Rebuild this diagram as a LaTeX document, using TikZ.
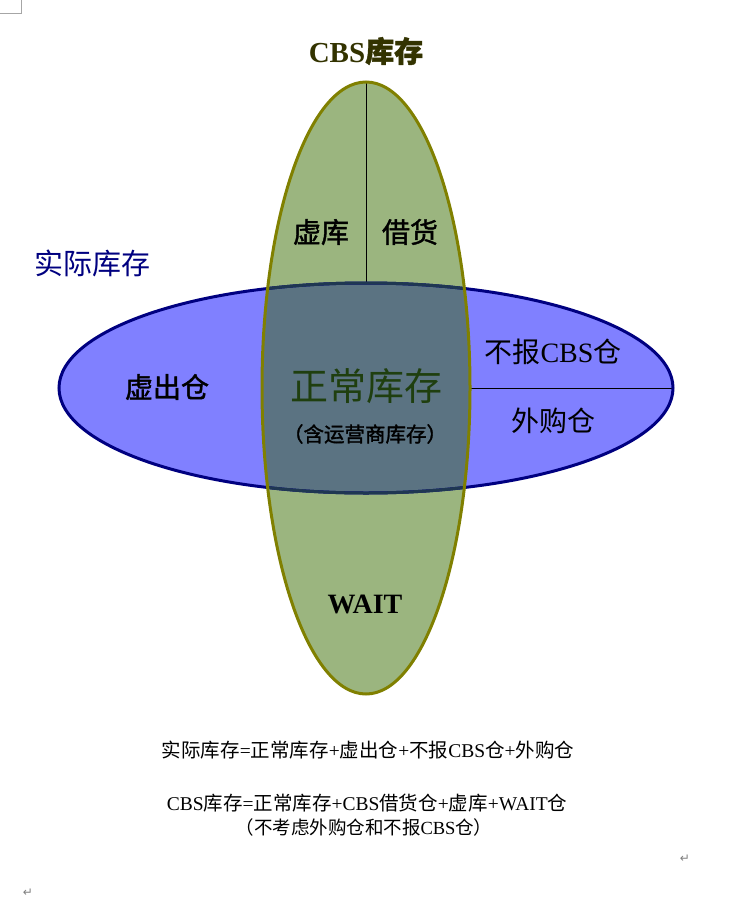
\documentclass[tikz,border=0pt]{standalone}
\usepackage{fontspec}
\setmainfont{Liberation Serif}
\newfontfamily\cjk{Noto Sans CJK SC}
\newfontfamily\cjkm[FakeBold=1.5]{Noto Sans CJK SC}
\newfontfamily\symf{DejaVu Sans}
\usetikzlibrary{shapes.geometric}
\newcommand{\zh}[1]{{\cjk #1}}
\definecolor{vfill}{HTML}{9BB57F}
\definecolor{vline}{HTML}{808000}
\definecolor{hfill}{HTML}{8080FF}
\definecolor{hline}{HTML}{000080}
\definecolor{mfill}{HTML}{5B7382}
\definecolor{mline}{HTML}{1F3752}
\definecolor{cbsc}{HTML}{333300}
\definecolor{normc}{HTML}{1F3F0F}
\begin{document}
\begin{tikzpicture}[x=1pt,y=-1pt,
  shapebox/.style={ellipse,inner sep=0pt,outer sep=0pt},
  lbl/.style={inner sep=0pt,anchor=center},
  retmark/.style={inner sep=0pt,text=gray,font=\symf\fontsize{12}{12}\selectfont}]
\useasboundingbox (0,0) rectangle (753,902);
\fill[white] (0,0) rectangle (753,902);
% shape anchors
\node[shapebox,minimum width=208pt,minimum height=612pt] (V) at (366,388) {};
\node[shapebox,minimum width=614pt,minimum height=210pt] (H) at (366,388) {};
% fills
\fill[hfill] (366,388) ellipse [x radius=307, y radius=105];
\fill[vfill] (366,388) ellipse [x radius=104, y radius=306];
\begin{scope}
  \clip (366,388) ellipse [x radius=104, y radius=306];
  \fill[mfill] (366,388) ellipse [x radius=307, y radius=105];
\end{scope}
% inner lines
\draw[black,line width=0.9pt] (V.north) -- (H.north);
\draw[black,line width=0.9pt] (V.east) -- (H.east);
% borders
\draw[hline,line width=3pt] (366,388) ellipse [x radius=307, y radius=105];
\begin{scope}
  \clip (366,388) ellipse [x radius=104, y radius=306];
  \draw[mline,line width=3pt] (366,388) ellipse [x radius=307, y radius=105];
\end{scope}
\draw[vline,line width=3pt] (366,388) ellipse [x radius=104, y radius=306];
% labels
\node[lbl,text=cbsc,font=\fontsize{29}{29}\selectfont\bfseries] (tcbs) at (366,51) {CBS{\cjkm 库存}};
\node[lbl,text=hline,font=\cjk\fontsize{29}{29}\selectfont] (tsj) at (92,263) {实际库存};
\node[lbl,font=\cjkm\fontsize{28}{28}\selectfont] (txk) at (321,232) {虚库};
\node[lbl,font=\cjkm\fontsize{28}{28}\selectfont] (tjh) at (410,232) {借货};
\node[lbl,font=\cjkm\fontsize{28}{28}\selectfont] (txc) at (167,387) {虚出仓};
\node[lbl,text=normc,font=\cjk\fontsize{38}{38}\selectfont] (tzc) at (366,386) {正常库存};
\node[lbl,font=\cjkm\fontsize{20.5}{20.5}\selectfont] (tyy) at (365,434) {（含运营商库存）};
\node[lbl,font=\fontsize{28}{28}\selectfont] (tbb) at (553,352) {\zh{不报}CBS\zh{仓}};
\node[lbl,font=\cjk\fontsize{28}{28}\selectfont] (twg) at (553,421) {外购仓};
\node[lbl,font=\fontsize{28}{28}\selectfont\bfseries] (twait) at (365,604) {WAIT};
% formulas
\node[lbl,font=\fontsize{19.5}{19.5}\selectfont] (f1) at (368,750) {\zh{实际库存}=\zh{正常库存}+\zh{虚出仓}+\zh{不报}CBS\zh{仓}+\zh{外购仓}};
\node[lbl,font=\fontsize{19.5}{19.5}\selectfont] (f2) at (367,803) {CBS\zh{库存}=\zh{正常库存}+CBS\zh{借货仓}+\zh{虚库}+WAIT\zh{仓}};
\node[lbl,font=\fontsize{18.5}{18.5}\selectfont] (f3) at (364,827) {\zh{（不考虑外购仓和不报}CBS\zh{仓）}};
% page marks
\draw[gray!70,line width=1pt] (0,13) -- (21,13) -- (21,0);
\node[retmark] (r1) at (685,859) {↵};
\node[retmark] (r2) at (28,893) {↵};
\end{tikzpicture}
\end{document}
